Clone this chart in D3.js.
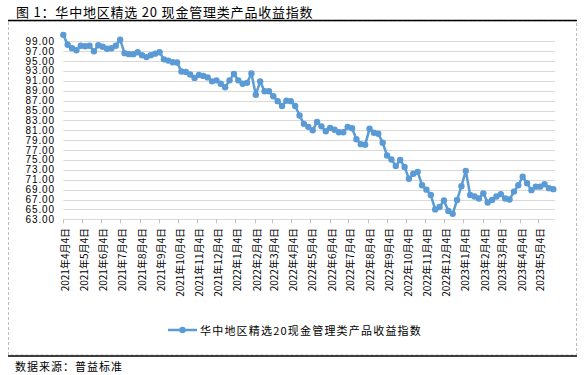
<!DOCTYPE html>
<html><head><meta charset="utf-8">
<script src="https://cdn.jsdelivr.net/npm/d3@7"></script>
<style>body{margin:0;background:#fff;} svg{display:block;}</style>
</head><body>
<svg id="c" width="585" height="375"></svg>
<script>
const titleText = "图 1：华中地区精选 20 现金管理类产品收益指数";
const seriesName = "华中地区精选20现金管理类产品收益指数";
const sourceText = "数据来源：普益标准";
const startDate = "2021-04-04";
const endDate = "2023-05-28";
const values = [
  100.3, 98.3, 97.6, 97.2, 98.1, 98.0, 98.1, 97.0, 98.2, 97.9,
  97.5, 97.6, 98.1, 99.3, 96.6, 96.4, 96.4, 96.8, 96.2, 95.8,
  96.2, 96.5, 96.8, 95.35, 95.1, 94.75, 94.7, 92.9, 92.8, 92.3,
  91.6, 92.2, 92.0, 91.7, 90.9, 91.1, 90.4, 89.7, 91.1, 92.4,
  91.1, 90.4, 90.6, 92.5, 88.2, 90.9, 88.9, 88.9, 87.9, 86.9,
  85.9, 87.0, 86.9, 85.9, 84.0, 82.3, 81.7, 81.0, 82.7, 81.8,
  80.8, 81.5, 81.1, 80.6, 80.6, 81.7, 81.4, 79.2, 78.2, 78.1,
  81.3, 80.5, 80.3, 78.5, 75.9, 75.1, 73.8, 75.0, 73.6, 71.2,
  72.2, 72.6, 69.9, 69.0, 67.9, 65.0, 65.5, 66.8, 64.7, 64.1,
  66.9, 69.7, 72.8, 67.9, 67.6, 67.2, 68.25, 66.4, 66.9, 67.6,
  68.1, 67.2, 67.0, 68.6, 69.9, 71.6, 70.3, 68.9, 69.6, 69.6,
  70.1, 69.3, 69.1
];
const yTicks = [63,65,67,69,71,73,75,77,79,81,83,85,87,89,91,93,95,97,99];
const xTickLabels = [
  "2021年4月4日","2021年5月4日","2021年6月4日","2021年7月4日","2021年8月4日","2021年9月4日",
  "2021年10月4日","2021年11月4日","2021年12月4日","2022年1月4日","2022年2月4日","2022年3月4日",
  "2022年4月4日","2022年5月4日","2022年6月4日","2022年7月4日","2022年8月4日","2022年9月4日",
  "2022年10月4日","2022年11月4日","2022年12月4日","2023年1月4日","2023年2月4日","2023年3月4日",
  "2023年4月4日","2023年5月4日"
];

const parse = d3.timeParse("%Y-%m-%d");
const parseCn = s => { const m = s.match(/(\d+)年(\d+)月(\d+)日/); return new Date(+m[1], +m[2]-1, +m[3]); };
const dates = d3.timeDay.range(parse(startDate), d3.timeDay.offset(parse(endDate), 1), 7);
const data = values.map((v, i) => ({date: dates[i], value: v}));

const svg = d3.select("#c");
const font = "'Noto Sans CJK SC', 'Liberation Sans', sans-serif";
const x = d3.scaleTime().domain([parse(startDate), parse(endDate)]).range([63.3, 553.3]);
const y = d3.scaleLinear().domain([63, 99]).range([219.3, 41.3]);
const plotRight = 555;
const color = "#5b9bd5";

// frame
svg.append("rect").attr("x", 8.5).attr("y", 21).attr("width", 568).attr("height", 334)
  .attr("fill", "none").attr("stroke", "#bfbfbf").attr("stroke-dasharray", "3,2");
svg.append("line").attr("x1", 8).attr("x2", 577).attr("y1", 20.5).attr("y2", 20.5).attr("stroke", "#000").attr("stroke-width", 1.5);
svg.append("line").attr("x1", 8).attr("x2", 577).attr("y1", 356).attr("y2", 356).attr("stroke", "#000").attr("stroke-width", 1.5);

svg.append("text").attr("x", 16).attr("y", 11).attr("dominant-baseline", "central")
  .attr("font-family", font).attr("font-size", 13).attr("letter-spacing", 0.8).attr("fill", "#000").text(titleText);

// gridlines
svg.append("g").selectAll("line").data(yTicks).join("line")
  .attr("x1", x.range()[0]).attr("x2", plotRight)
  .attr("y1", d => Math.round(y(d)) + 0.5).attr("y2", d => Math.round(y(d)) + 0.5)
  .attr("stroke", "#d9d9d9");

// y labels
svg.append("g").selectAll("text").data(yTicks).join("text")
  .attr("x", 55).attr("y", d => y(d)).attr("text-anchor", "end").attr("dominant-baseline", "central")
  .attr("font-family", "'Liberation Sans', sans-serif").attr("font-size", 10).attr("letter-spacing", 0.9).attr("fill", "#000")
  .text(d => d3.format(".2f")(d));

// x axis ticks
const tickDates = xTickLabels.map(parseCn);
svg.append("g").selectAll("line").data(tickDates).join("line")
  .attr("x1", d => Math.round(x(d)) + 0.5).attr("x2", d => Math.round(x(d)) + 0.5)
  .attr("y1", y(63)).attr("y2", y(63) + 4).attr("stroke", "#bfbfbf");
svg.append("g").selectAll("text").data(xTickLabels).join("text")
  .attr("transform", (d, i) => `translate(${x(tickDates[i]) + 1.5},228) rotate(-90)`)
  .attr("text-anchor", "end").attr("dominant-baseline", "central")
  .attr("font-family", font).attr("font-size", 10).attr("fill", "#000").text(d => d);

// series
const line = d3.line().x(d => x(d.date)).y(d => y(d.value));
svg.append("path").datum(data).attr("d", line).attr("fill", "none")
  .attr("stroke", color).attr("stroke-width", 2.5).attr("stroke-linejoin", "round");
svg.append("g").selectAll("circle").data(data).join("circle")
  .attr("cx", d => x(d.date)).attr("cy", d => y(d.value)).attr("r", 3.2).attr("fill", color);

// legend
svg.append("line").attr("x1", 168).attr("x2", 197).attr("y1", 330).attr("y2", 330).attr("stroke", color).attr("stroke-width", 2.5);
svg.append("circle").attr("cx", 182.5).attr("cy", 330).attr("r", 3.2).attr("fill", color);
svg.append("text").attr("x", 200).attr("y", 330).attr("dominant-baseline", "central")
  .attr("font-family", font).attr("font-size", 11).attr("letter-spacing", 1.2).attr("fill", "#000").text(seriesName);

svg.append("text").attr("x", 15).attr("y", 366).attr("dominant-baseline", "central")
  .attr("font-family", font).attr("font-size", 11).attr("letter-spacing", 1).attr("fill", "#000").text(sourceText);
</script>
</body></html>
